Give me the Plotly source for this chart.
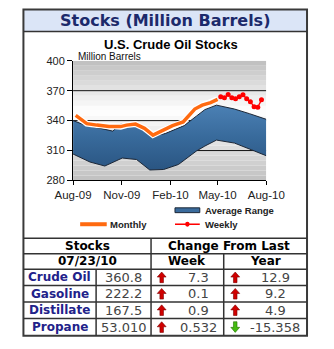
import plotly.graph_objects as go

# ---------------- data ----------------
range_upper_dates = ["2009-08-01", "2009-08-24", "2009-10-02", "2009-10-15", "2009-10-30",
                     "2009-11-27", "2009-12-11", "2009-12-28", "2010-01-22", "2010-02-05",
                     "2010-02-27", "2010-03-22", "2010-04-07", "2010-04-29", "2010-06-02",
                     "2010-06-30", "2010-08-01"]
range_upper_vals = [340, 335.5, 331, 329.5, 336.5, 335.5, 332, 324.5, 327, 330,
                    335, 344.5, 351, 355.5, 351.6, 347, 341.3]

range_lower_dates = ["2009-08-01", "2009-09-02", "2009-09-30", "2009-11-02", "2009-11-29",
                     "2009-12-24", "2010-01-19", "2010-02-16", "2010-03-22", "2010-04-07",
                     "2010-04-29", "2010-06-02", "2010-07-10", "2010-08-01"]
range_lower_vals = [306.5, 298.5, 294.5, 302.5, 301, 290.5, 291, 296, 309.5, 314.5,
                    320.5, 317.5, 309.5, 304.8]

monthly_dates = ["2009-08-06", "2009-08-27", "2009-09-15", "2009-10-08", "2009-10-30",
                 "2009-11-10", "2009-11-27", "2009-12-14", "2009-12-30", "2010-01-17",
                 "2010-02-05", "2010-02-25", "2010-03-08", "2010-03-19", "2010-04-02",
                 "2010-04-18", "2010-05-01"]
monthly_vals = [345.2, 337, 335.5, 334, 334, 335.5, 336.5, 332.3, 325.5, 330,
                335, 338.7, 345, 351.6, 355.5, 358.1, 361.3]

weekly_dates = ["2010-05-07", "2010-05-14", "2010-05-21", "2010-05-28", "2010-06-04",
                "2010-06-11", "2010-06-18", "2010-06-25", "2010-07-02", "2010-07-09",
                "2010-07-16", "2010-07-23"]
weekly_vals = [363.9, 362.9, 366.1, 362.9, 362.0, 363.9, 365.8, 362.0, 358.8, 353.9,
               353.5, 360.8]

x_tick_dates = ["2009-08-01", "2009-11-01", "2010-02-01", "2010-05-01", "2010-08-01"]
x_tick_labels = ["Aug-09", "Nov-09", "Feb-10", "May-10", "Aug-10"]
y_ticks = [280, 310, 340, 370, 400]

products = ["Crude Oil", "Gasoline", "Distillate", "Propane"]
stocks = ["360.8", "222.2", "167.5", "53.010"]
week_change = ["7.3", "0.1", "0.9", "0.532"]
year_change = ["12.9", "9.2", "4.9", "-15.358"]
as_of_date = "07/23/10"

# ---------------- layout helpers ----------------
W, H = 334, 349


def px(x):
    return x / W


def py(y):
    return 1 - y / H


fig = go.Figure()

# average range band
fig.add_trace(go.Scatter(x=range_lower_dates, y=range_lower_vals, mode="lines",
                         line=dict(color="#1b2636", width=1), showlegend=False,
                         hoverinfo="skip"))
fig.add_trace(go.Scatter(x=range_upper_dates, y=range_upper_vals, mode="lines",
                         line=dict(color="#1b2636", width=1), fill="tonexty",
                         fillcolor="#3a6b9c",
                         fillgradient=dict(type="vertical",
                                           colorscale=[[0, "#2a5582"], [0.5, "#386a9b"], [1, "#4b80b4"]]),
                         showlegend=False, hoverinfo="skip"))
# monthly (white halo + orange)
fig.add_trace(go.Scatter(x=monthly_dates, y=monthly_vals, mode="lines",
                         line=dict(color="white", width=6), showlegend=False,
                         hoverinfo="skip"))
fig.add_trace(go.Scatter(x=monthly_dates, y=monthly_vals, mode="lines",
                         line=dict(color="#ff6a10", width=3.5), showlegend=False))
# weekly
fig.add_trace(go.Scatter(x=weekly_dates, y=weekly_vals, mode="lines+markers",
                         line=dict(color="#ff0000", width=1.3),
                         marker=dict(color="#ff0000", size=5), showlegend=False))

shapes = []
# plot background bands (gray -> white -> gray)
y0, y1 = y_ticks[0], y_ticks[-1]
step = 5
v = y0
while v < y1:
    mid = v + step / 2
    if mid >= 350:
        t = (mid - 350) / (y1 - 350)
        g = int(round(255 - (255 - 190) * t))
    else:
        t = (350 - mid) / (350 - y0)
        g = int(round(255 - (255 - 192) * t))
    shapes.append(dict(type="rect", xref="x", yref="y", x0=x_tick_dates[0], x1=x_tick_dates[-1],
                       y0=v, y1=v + step,
                       fillcolor=f"rgb({g},{g},{g})", line=dict(width=0), layer="below"))
    v += step
# grid lines
for t in y_ticks[1:-1]:
    shapes.append(dict(type="line", xref="x", yref="y", x0=x_tick_dates[0], x1=x_tick_dates[-1],
                       y0=t, y1=t, line=dict(color="#111111", width=1), layer="below"))

# frame, header band
shapes.append(dict(type="rect", xref="paper", yref="paper", x0=px(5), x1=px(325),
                   y0=py(26.5), y1=py(3.5), fillcolor="#dbe5f7", line=dict(width=0), layer="below"))
shapes.append(dict(type="rect", xref="paper", yref="paper", x0=px(5), x1=px(325),
                   y0=py(341.5), y1=py(3.5), line=dict(color="#3a3a3a", width=2)))
line_col = "#333333"
for yy in [26.5, 240.5, 256.5, 272.5, 289.5, 306.5, 323.5]:
    shapes.append(dict(type="line", xref="paper", yref="paper", x0=px(5), x1=px(325),
                       y0=py(yy), y1=py(yy), line=dict(color=line_col, width=1.5)))
for xx, ya, yb in [(149, 240.5, 341.5), (87, 272.5, 341.5), (231, 256.5, 341.5)]:
    shapes.append(dict(type="line", xref="paper", yref="paper", x0=px(xx), x1=px(xx),
                       y0=py(ya), y1=py(yb), line=dict(color=line_col, width=1.5)))

# legend swatches
shapes.append(dict(type="rect", xref="paper", yref="paper", x0=px(176), x1=px(204),
                   y0=py(214), y1=py(209), fillcolor="#3a6b9c", line=dict(color="#1b2636", width=1)))
shapes.append(dict(type="line", xref="paper", yref="paper", x0=px(69), x1=px(99),
                   y0=py(226), y1=py(226), line=dict(color="#ff6a10", width=4)))
shapes.append(dict(type="line", xref="paper", yref="paper", x0=px(176), x1=px(204),
                   y0=py(226), y1=py(226), line=dict(color="#ff0000", width=1.5)))
shapes.append(dict(type="circle", xref="paper", yref="paper", x0=px(187.5), x1=px(192.5),
                   y0=py(228.5), y1=py(223.5), fillcolor="#ff0000", line=dict(width=0)))


def arrow_path(cx, cy, up=True):
    s = 1 if up else -1
    pts = [(cx, cy - 5.5 * s), (cx + 5, cy - 0.3 * s), (cx + 2, cy - 0.3 * s),
           (cx + 2, cy + 5.5 * s), (cx - 2, cy + 5.5 * s), (cx - 2, cy - 0.3 * s),
           (cx - 5, cy - 0.3 * s)]
    return "M " + " L ".join(f"{px(a):.5f},{py(b):.5f}" for a, b in pts) + " Z"


annotations = []


def txt(text, x, y, size, color="#000000", bold=False, family="DejaVu Sans", anchor="center"):
    if bold:
        text = f"<b>{text}</b>"
    annotations.append(dict(text=text, x=px(x), y=py(y), xref="paper", yref="paper",
                            xanchor=anchor, yanchor="middle", showarrow=False,
                            font=dict(size=size, color=color, family=family)))


txt("Stocks (Million Barrels)", 165, 15.5, 16, "#1c2a6b", True)
txt("U.S. Crude Oil Stocks", 171.5, 40, 13, "#000000", True, "Liberation Sans")
txt("Million Barrels", 64, 52.5, 10, "#111111", False, "Liberation Sans", "left")
txt("Average Range", 208, 211.5, 9.5, "#222222", True, "Liberation Sans", "left")
txt("Monthly", 100, 226, 9.5, "#222222", True, "Liberation Sans", "left")
txt("Weekly", 208, 226, 9.5, "#222222", True, "Liberation Sans", "left")

txt("Stocks", 77, 248.5, 12, "#000000", True)
txt(as_of_date, 77, 264.5, 12, "#000000", True)
txt("Change From Last", 237, 248.5, 12, "#000000", True)
txt("Week", 190, 264.5, 12, "#000000", True)
txt("Year", 278, 264.5, 12, "#000000", True)

row_centers = [281, 298, 315, 332.5]
for i, name in enumerate(products):
    cy = row_centers[i]
    txt(name, 46, cy, 12, "#22228a", True)
    txt(stocks[i], 118, cy, 13, "#444444")
    txt(week_change[i], 202, cy, 13, "#444444")
    txt(year_change[i], 289, cy, 13, "#444444")
    for cx, val in [(161, week_change[i]), (244, year_change[i])]:
        up = float(val) >= 0
        shapes.append(dict(type="path", xref="paper", yref="paper", path=arrow_path(cx, cy, up),
                           fillcolor="#d00000" if up else "#44bb10",
                           line=dict(color="#7a0000" if up else "#207000", width=0.6)))

fig.update_layout(
    width=W, height=H, margin=dict(l=0, r=0, t=0, b=0),
    paper_bgcolor="white", plot_bgcolor="white",
    showlegend=False,
    shapes=shapes, annotations=annotations,
    xaxis=dict(domain=[px(61), px(279)], range=[x_tick_dates[0], x_tick_dates[-1]],
               tickvals=x_tick_dates, ticktext=x_tick_labels, showgrid=False, zeroline=False,
               showline=True, linecolor="#000000", linewidth=1, ticks="outside", ticklen=4,
               tickcolor="#000000", tickfont=dict(family="Liberation Sans", size=11.5, color="#222222")),
    yaxis=dict(domain=[py(180.7), py(56.7)], range=[y_ticks[0], y_ticks[-1]],
               tickvals=y_ticks, showgrid=False, zeroline=False,
               showline=True, linecolor="#000000", linewidth=1, ticks="outside", ticklen=5,
               tickcolor="#000000", tickfont=dict(family="Liberation Sans", size=11, color="#222222")),
)

fig.write_html("out.html")
